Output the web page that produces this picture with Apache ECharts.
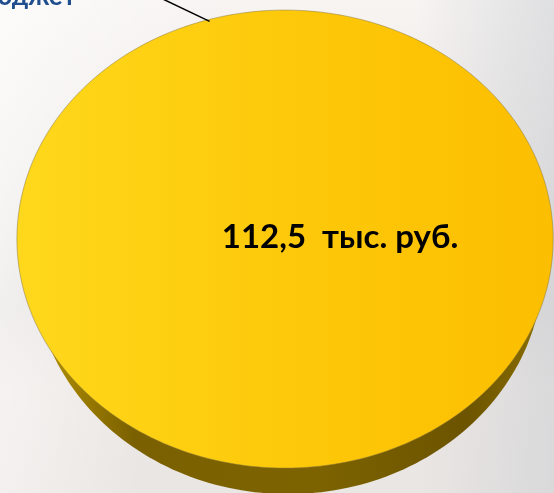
<!DOCTYPE html>
<html>
<head>
<meta charset="utf-8">
<script src="https://cdn.jsdelivr.net/npm/echarts@6/dist/echarts.min.js"></script>
<style>
  html, body { margin: 0; padding: 0; }
  body {
    width: 554px; height: 493px; overflow: hidden;
    background:
      linear-gradient(100deg, rgba(255,255,255,0.7) 0%, rgba(255,255,255,0) 35%),
      linear-gradient(90deg, rgba(0,0,0,0) 75%, rgba(200,204,210,0.5) 100%),
      linear-gradient(180deg, #f7f4f2 0%, #ece8e6 35%, #e2dedc 62%, #ece7e4 78%, #eae6e3 100%);
  }
  #chart { width: 554px; height: 493px; }
</style>
</head>
<body>
<div id="chart"></div>
<script>
  // chart data
  const categories = ["Бюджет"];
  const values = [112.5];
  const valueLabels = ["112,5  тыс. руб."];

  const total = values.reduce((a, b) => a + b, 0);

  // angle measured clockwise from 12 o'clock
  function arcPoints(cx, cy, rx, ry, a0, a1, steps) {
    const pts = [];
    for (let i = 0; i <= steps; i++) {
      const a = a0 + (a1 - a0) * i / steps;
      pts.push([cx + rx * Math.sin(a), cy - ry * Math.cos(a)]);
    }
    return pts;
  }

  function renderSlice(params, api) {
    const w = api.getWidth();
    const h = api.getHeight();
    const cx = w * 0.5145, cy = h * 0.485;
    const rx = w * 0.484, ry = h * 0.4645;
    const depth = 26;

    const idx = params.dataIndex;
    let before = 0;
    for (let i = 0; i < idx; i++) before += values[i];
    const a0 = before / total * Math.PI * 2;
    const a1 = (before + api.value(0)) / total * Math.PI * 2;
    const full = a1 - a0 >= Math.PI * 2 - 1e-6;

    let top = arcPoints(cx, cy, rx, ry, a0, a1, 240);
    // the rim is a bit narrower so it only shows along the bottom
    let side = arcPoints(cx + 3, cy + depth, rx * 0.952, ry, a0, a1, 240);
    if (!full) {
      top = [[cx, cy]].concat(top);
      side = [[cx, cy + depth]].concat(side);
    }

    // label anchor on the rim, leader line goes up-left
    const am = -0.285;
    const ax = cx + rx * Math.sin(am), ay = cy - ry * Math.cos(am) + 2;
    const ex = ax - 84, ey = ay - 40;

    return {
      type: "group",
      children: [
        {
          type: "polygon",
          shape: { points: side },
          style: {
            fill: new echarts.graphic.LinearGradient(0, 0, 1, 0, [
              { offset: 0, color: "#b89400" },
              { offset: 0.2, color: "#7a6000" },
              { offset: 0.55, color: "#7d6300" },
              { offset: 0.85, color: "#6c5400" },
              { offset: 1, color: "#8a6e00" }
            ])
          }
        },
        {
          type: "polygon",
          shape: { points: top },
          style: {
            fill: new echarts.graphic.LinearGradient(0, 0, 1, 0, [
              { offset: 0, color: "#ffd81c" },
              { offset: 0.5, color: "#fdc90a" },
              { offset: 1, color: "#fcbe00" }
            ]),
            stroke: "rgba(140,120,60,0.5)",
            lineWidth: 1
          }
        },
        {
          type: "text",
          x: cx + rx * 0.205,
          y: cy - 2,
          style: {
            text: valueLabels[idx],
            fill: "#000",
            font: "bold 33px Lato",
            align: "center",
            verticalAlign: "middle"
          }
        },
        {
          type: "line",
          shape: { x1: ax, y1: ay, x2: ex, y2: ey },
          style: { stroke: "#000", lineWidth: 1.5 }
        },
        {
          type: "text",
          x: 76,
          y: 10,
          style: {
            text: categories[idx],
            fill: "#1f4f8f",
            font: "bold 26px Lato",
            align: "right",
            verticalAlign: "bottom"
          }
        }
      ]
    };
  }

  const chart = echarts.init(document.getElementById("chart"));
  chart.setOption({
    backgroundColor: "transparent",
    animation: false,
    series: [{
      type: "custom",
      coordinateSystem: "none",
      renderItem: renderSlice,
      data: values.map((v, i) => ({ name: categories[i], value: [v] }))
    }]
  });
</script>
</body>
</html>
